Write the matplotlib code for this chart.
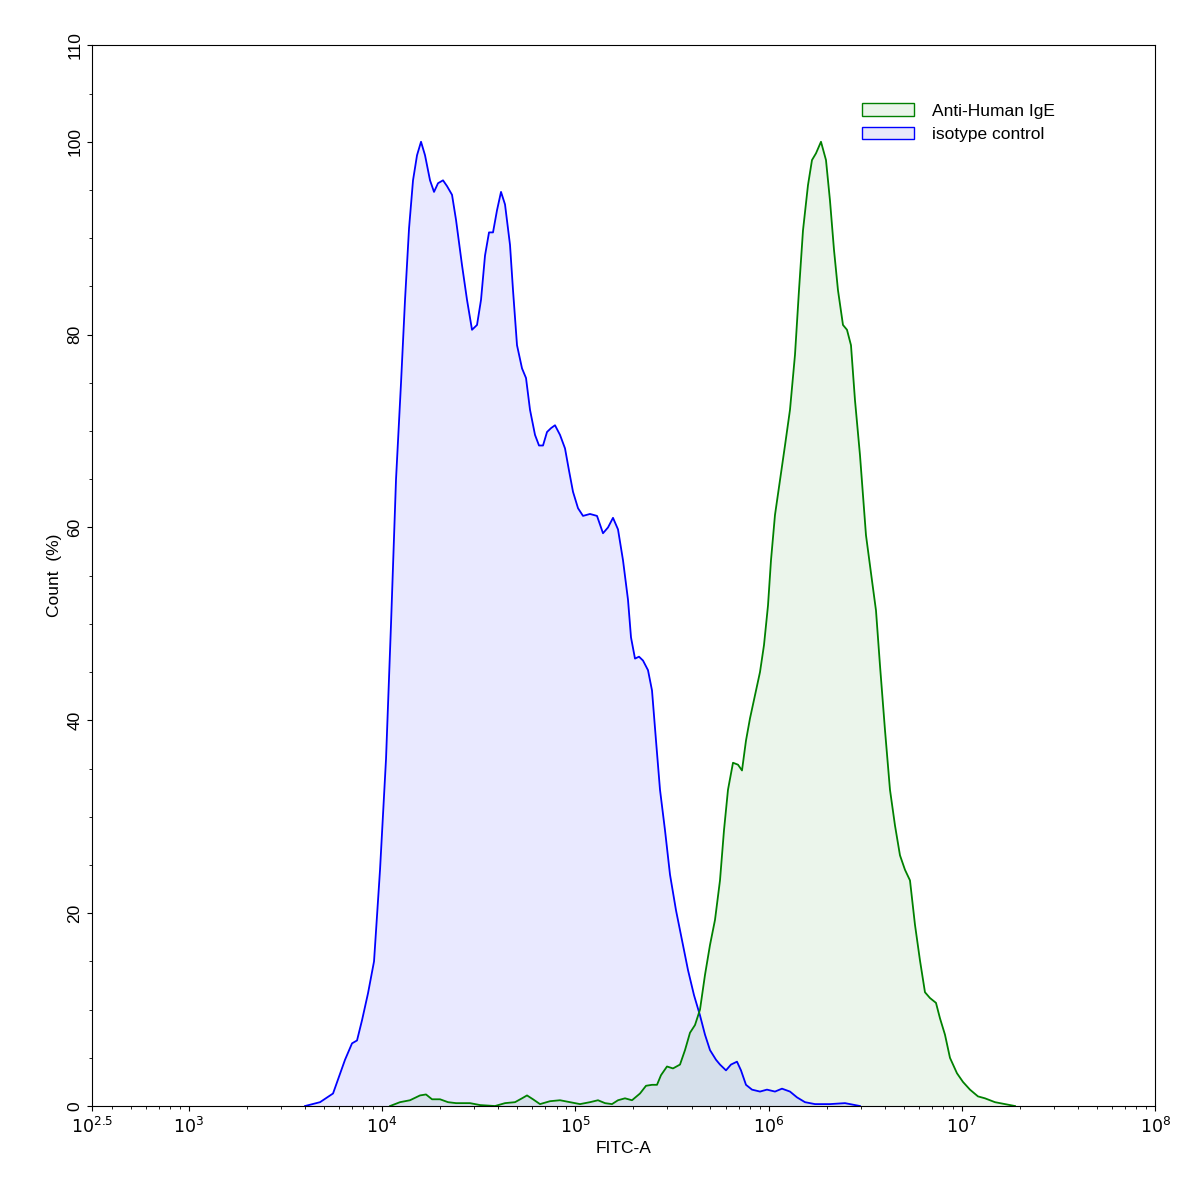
import matplotlib.pyplot as plt
import numpy as np
from matplotlib.patches import Patch
from matplotlib.ticker import MultipleLocator, FixedLocator, LogLocator, NullFormatter

plt.rcParams['font.family'] = ['Liberation Sans', 'DejaVu Sans']

# pixel-read curves: log10(FITC-A) and count (%)
iso_px = [305,320,333,345,352,357,362,368,374,380,386,391,396,401,405,409,413,417,421,425,430,434,438,443,447,452,456,462,467,472,477,481,485,489,493,497,501,505,510,513,517,522,526,530,535,539,543,547,551,555,560,565,569,573,578,583,590,597,603,608,613,618,623,628,631,635,639,643,648,652,656,660,665,670,676,682,688,694,700,705,710,716,720,726,731,737,741,746,752,760,767,775,782,790,797,805,815,830,845,860]
iso_y = [0,0.4,1.3,4.8,6.5,6.8,8.9,11.7,15,24.5,36,50,65,75,83.6,91,96,98.6,100,98.6,96,94.8,95.7,96,95.4,94.5,91.9,87.2,83.6,80.5,81,83.6,88.2,90.6,90.6,92.9,94.8,93.5,89.3,84.6,78.9,76.5,75.5,72.2,69.6,68.5,68.5,69.9,70.3,70.6,69.6,68.2,65.9,63.7,62,61.2,61.4,61.2,59.4,60,61,59.8,56.6,52.5,48.6,46.4,46.6,46.2,45.2,43.1,37.9,32.8,28.6,24,20.3,17.2,14.1,11.5,9.4,7.4,5.8,4.8,4.3,3.7,4.3,4.6,3.7,2.2,1.7,1.5,1.7,1.5,1.8,1.5,0.9,0.4,0.2,0.2,0.3,0]

ige_px = [390,400,410,420,426,432,440,448,456,470,480,495,505,515,522,527,533,540,550,560,570,580,590,598,605,612,618,625,632,640,646,652,657,661,667,673,680,685,690,695,700,705,710,715,720,724,728,733,738,742,746,750,755,760,764,768,771,775,780,785,790,795,799,803,808,812,816,821,826,830,834,838,843,847,851,855,860,866,872,876,880,885,890,895,900,905,910,915,920,925,930,936,940,945,950,957,963,970,978,985,995,1005,1015]
ige_y = [0,0.4,0.6,1.1,1.2,0.7,0.7,0.4,0.3,0.3,0.1,0,0.3,0.4,0.8,1.1,0.7,0.2,0.5,0.6,0.4,0.2,0.4,0.6,0.3,0.2,0.6,0.8,0.6,1.3,2.1,2.2,2.2,3.2,4.1,3.9,4.3,5.8,7.6,8.4,10,13.6,16.7,19.3,23.4,28.6,32.8,35.6,35.4,34.8,37.9,40.2,42.6,45,47.8,51.9,56.6,61.3,64.9,68.5,72.2,77.9,84.6,90.8,95.5,98.1,98.8,100,98.1,93.9,88.8,84.6,81,80.5,78.9,73.2,67.5,59.2,54.5,51.4,45.7,39,32.8,29.1,26,24.5,23.4,18.8,15.1,11.8,11.2,10.7,9.1,7.4,5,3.4,2.5,1.7,1,0.8,0.4,0.2,0]

def to_x(px):
    return 10 ** (2.5 + (np.array(px) - 92) / 193.3)

fig = plt.figure(figsize=(11.97, 11.93), dpi=100)
ax = fig.add_axes([0.0769, 0.0729, 0.8881, 0.8891])

xi = to_x(iso_px)
xg = to_x(ige_px)
ax.fill_between(xi, iso_y, color='#0000ff', alpha=0.085, lw=0)
ax.fill_between(xg, ige_y, color='#008000', alpha=0.08, lw=0)
ax.plot(xi, iso_y, color='#0000ff', lw=1.3)
ax.plot(xg, ige_y, color='#008000', lw=1.3)

ax.set_xscale('log')
ax.set_xlim(10 ** 2.5, 1e8)
ax.set_ylim(0, 110)
ax.xaxis.set_major_locator(FixedLocator([10 ** 2.5, 1e3, 1e4, 1e5, 1e6, 1e7, 1e8]))
ax.set_xticklabels(['$10^{2.5}$', '$10^3$', '$10^4$', '$10^5$', '$10^6$', '$10^7$', '$10^8$'])
ax.xaxis.set_minor_locator(LogLocator(base=10, subs=np.arange(2, 10), numticks=20))
ax.xaxis.set_minor_formatter(NullFormatter())
ax.yaxis.set_major_locator(FixedLocator([0, 20, 40, 60, 80, 100, 110]))
ax.yaxis.set_minor_locator(MultipleLocator(5))
ax.tick_params(axis='both', labelsize=12.5)
ax.tick_params(axis='y', labelrotation=90)
for lab in ax.get_yticklabels():
    lab.set_va('center')
ax.set_xlabel('FITC-A', fontsize=12.5)
ax.set_ylabel('Count  (%)', fontsize=12.5)

handles = [Patch(facecolor='#eaf5ea', edgecolor='#008000', label='Anti-Human IgE'),
           Patch(facecolor='#e8e8fa', edgecolor='#0000ff', label='isotype control')]
ax.legend(handles=handles, loc='upper right', bbox_to_anchor=(0.92, 0.96), frameon=False,
          fontsize=12.5, handlelength=3.0, handletextpad=1.0)

fig.savefig('out.png', dpi=100)
